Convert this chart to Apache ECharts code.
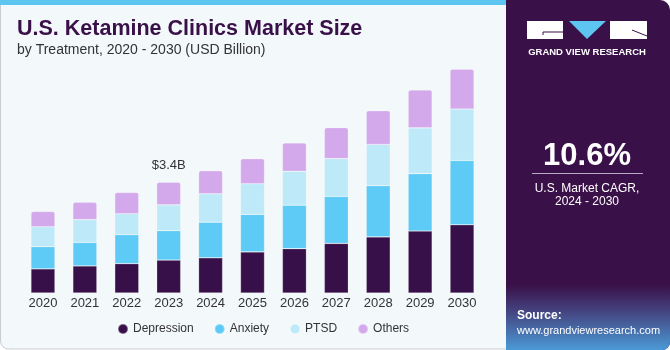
<!DOCTYPE html>
<html>
<head>
<meta charset="utf-8">
<script src="https://cdn.jsdelivr.net/npm/echarts@6/dist/echarts.min.js"></script>
<style>
  html, body { margin: 0; padding: 0; background: #fff; }
  #chart { width: 670px; height: 350px; }
</style>
</head>
<body>
<div id="chart"></div>
<script>
// values in USD billion
const years = ['2020', '2021', '2022', '2023', '2024', '2025', '2026', '2027', '2028', '2029', '2030'];
const depression = [0.74, 0.83, 0.90, 1.01, 1.08, 1.26, 1.36, 1.52, 1.72, 1.90, 2.09];
const anxiety = [0.68, 0.72, 0.89, 0.90, 1.09, 1.15, 1.33, 1.44, 1.57, 1.76, 1.97];
const ptsd = [0.61, 0.70, 0.64, 0.79, 0.87, 0.94, 1.04, 1.16, 1.26, 1.40, 1.58];
const others = [0.47, 0.53, 0.65, 0.70, 0.71, 0.77, 0.87, 0.95, 1.04, 1.16, 1.22];
const callouts = ['', '', '', '$3.4B', '', '', '', '', '', '', ''];

const font = '"Liberation Sans", Arial, sans-serif';
const colors = {
  Depression: '#381049',
  Anxiety: '#5dcbf6',
  PTSD: '#bde9f8',
  Others: '#d4a9ec'
};

function barSeries(name, data, top) {
  const s = {
    name: name,
    type: 'bar',
    stack: 'total',
    barWidth: 24,
    data: data,
    itemStyle: {
      color: colors[name],
      borderRadius: top ? [2, 2, 0, 0] : 0,
      borderColor: 'rgba(255,255,255,0.35)',
      borderWidth: 0.6
    }
  };
  if (top) {
    s.label = {
      show: true,
      position: 'top',
      distance: 10,
      color: '#333',
      fontSize: 13,
      fontFamily: font,
      formatter: p => callouts[p.dataIndex]
    };
  }
  return s;
}

const chart = echarts.init(document.getElementById('chart'));
chart.setOption({
  animation: false,
  backgroundColor: '#ffffff',
  textStyle: { fontFamily: font },
  grid: { left: 22, right: 187, top: 32, bottom: 57 },
  legend: {
    left: 112,
    top: 318,
    icon: 'circle',
    itemWidth: 10,
    itemHeight: 10,
    itemGap: 20,
    textStyle: { color: '#333', fontSize: 12, fontFamily: font },
    data: ['Depression', 'Anxiety', 'PTSD', 'Others']
  },
  xAxis: {
    type: 'category',
    data: years,
    axisLine: { show: false },
    axisTick: { show: false },
    axisLabel: { color: '#333', fontSize: 13, margin: 4 }
  },
  yAxis: {
    type: 'value',
    min: 0,
    max: 8,
    show: false,
    splitLine: { show: false }
  },
  graphic: [
    // main panel
    { type: 'rect', z: -10, shape: { x: 0.5, y: 0.5, width: 510, height: 348.5, r: [0, 0, 0, 8] },
      style: { fill: '#f3f8fb', stroke: '#c9cdd2', lineWidth: 1 } },
    { type: 'rect', z: -9, shape: { x: 0, y: 0, width: 510, height: 5 }, style: { fill: '#5dc5ef' } },
    // right panel
    { type: 'rect', z: -8, shape: { x: 506, y: 0, width: 164, height: 350, r: [0, 10, 8, 0] },
      style: { fill: '#3a1048' } },
    { type: 'rect', z: -7, shape: { x: 506, y: 285, width: 164, height: 65, r: [0, 0, 8, 0] },
      style: {
        fill: new echarts.graphic.LinearGradient(0, 0, 0, 1, [
          { offset: 0, color: '#3a1048' },
          { offset: 0.4, color: '#44437f' },
          { offset: 1, color: '#4a9ad6' }
        ])
      } },
    // logo
    { type: 'rect', shape: { x: 527, y: 21, width: 36, height: 18 }, style: { fill: '#ffffff' } },
    { type: 'polyline', shape: { points: [[563, 32], [543, 32], [543, 35]] },
      style: { stroke: '#3a1048', lineWidth: 1, fill: null } },
    { type: 'polygon', shape: { points: [[569, 21], [606, 21], [587, 39]] }, style: { fill: '#5dc5ef' } },
    { type: 'rect', shape: { x: 610, y: 21, width: 37, height: 18 }, style: { fill: '#ffffff' } },
    { type: 'line', shape: { x1: 632, y1: 30, x2: 647, y2: 36 }, style: { stroke: '#3a1048', lineWidth: 1 } },
    { type: 'text', x: 587, y: 52, style: { text: 'GRAND VIEW RESEARCH', fill: '#ffffff', font: 'bold 9.5px ' + font, align: 'center', verticalAlign: 'middle' } },
    // CAGR
    { type: 'text', x: 587, y: 156, style: { text: '10.6%', fill: '#ffffff', font: 'bold 31px ' + font, align: 'center', verticalAlign: 'middle' } },
    { type: 'line', shape: { x1: 532, y1: 173.5, x2: 643, y2: 173.5 }, style: { stroke: '#b7a9c4', lineWidth: 1 } },
    { type: 'text', x: 587, y: 189, style: { text: 'U.S. Market CAGR,', fill: '#ffffff', font: '12px ' + font, align: 'center', verticalAlign: 'middle' } },
    { type: 'text', x: 587, y: 202, style: { text: '2024 - 2030', fill: '#ffffff', font: '12px ' + font, align: 'center', verticalAlign: 'middle' } },
    // source
    { type: 'text', x: 517, y: 316, style: { text: 'Source:', fill: '#ffffff', font: 'bold 12px ' + font, verticalAlign: 'middle' } },
    { type: 'text', x: 517, y: 331, style: { text: 'www.grandviewresearch.com', fill: '#ffffff', font: '11px ' + font, verticalAlign: 'middle' } },
    // titles
    { type: 'text', x: 17, y: 29, style: { text: 'U.S. Ketamine Clinics Market Size', fill: '#3a1048', font: 'bold 21.5px ' + font, verticalAlign: 'middle' } },
    { type: 'text', x: 17, y: 50, style: { text: 'by Treatment, 2020 - 2030 (USD Billion)', fill: '#333333', font: '14px ' + font, verticalAlign: 'middle' } }
  ],
  series: [
    barSeries('Depression', depression, false),
    barSeries('Anxiety', anxiety, false),
    barSeries('PTSD', ptsd, false),
    barSeries('Others', others, true)
  ]
});
</script>
</body>
</html>
